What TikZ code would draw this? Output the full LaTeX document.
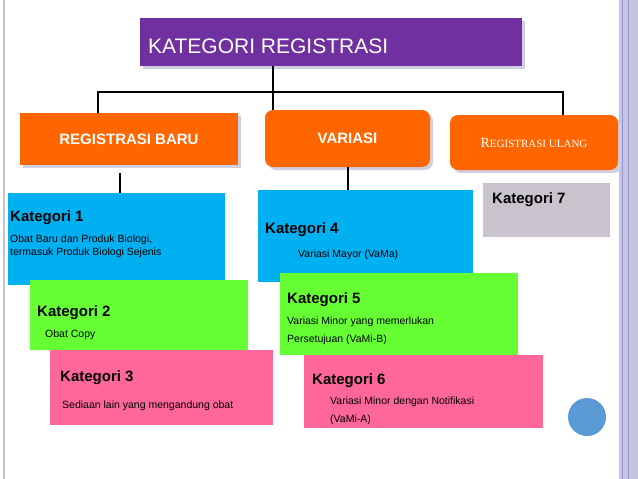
\documentclass[tikz,border=0pt]{standalone}
\usepackage{fontspec}
\setmainfont{Liberation Sans}
\newfontfamily\serifx{Liberation Serif}
\begin{document}
\begin{tikzpicture}[x=1pt,y=-1pt,
  box/.style={inner sep=0pt,outer sep=0pt,anchor=north west},
  lbl/.style={anchor=west,inner sep=0pt,text=black},
  big/.style={lbl,font=\bfseries\fontsize{15}{17}\selectfont},
  small/.style={lbl,font=\fontsize{10.5}{13}\selectfont,align=left},
  conn/.style={line width=2.2pt,black}]
\useasboundingbox (0,0) rectangle (638,479);
\fill[white] (0,0) rectangle (638,479);
% slide decoration
\draw[color=blue!20!gray!40,line width=2pt] (4,0) -- (4,479);
\fill[blue!30!gray!35] (619,0) rectangle (638,479);
\draw[blue!40!gray!60] (622,0) -- (622,479) (628,0) -- (628,479);
\fill[white] (614,0) rectangle (619,479);
% shadows
\tikzset{shad/.style={fill=blue!25!gray!30}}
\fill[shad] (143,21) rectangle (525,69);
\fill[shad] (23,116) rectangle (241,168);
\fill[shad,rounded corners=8pt] (268,113) rectangle (433,170);
\fill[shad,rounded corners=8pt] (453,118) rectangle (621,173);
% top boxes
\node[box,fill={rgb,255:red,112;green,48;blue,160},minimum width=382pt,minimum height=48pt] (title) at (140,18) {};
\node[anchor=west,text=white,font=\fontsize{21}{24}\selectfont,inner sep=0pt] (tt) at (148,46) {KATEGORI REGISTRASI};
\node[box,fill={rgb,255:red,255;green,102;blue,0},minimum width=218pt,minimum height=52pt] (rb) at (20,113) {};
\node[text=white,font=\bfseries\fontsize{15}{17}\selectfont] at (rb.center) {REGISTRASI BARU};
\node[box,fill={rgb,255:red,255;green,102;blue,0},rounded corners=8pt,minimum width=165pt,minimum height=57pt] (va) at (265,110) {};
\node[text=white,font=\bfseries\fontsize{15}{17}\selectfont] at (va.center) {VARIASI};
\node[box,fill={rgb,255:red,255;green,102;blue,0},rounded corners=8pt,minimum width=168pt,minimum height=55pt] (ru) at (450,115) {};
\node[text=white,font=\serifx\fontsize{14}{16}\selectfont] at ([xshift=0pt]ru.center) {R\fontsize{11}{13}\selectfont EGISTRASI ULANG};
% connectors
\coordinate (hj) at (273,92);
\coordinate (hl) at (98,92);
\coordinate (hr) at (563,92);
\draw[conn] (title.south -| hj) -- (hj);
\draw[conn] (hl |- rb.north) -- (hl) -- (hr) -- (hr |- ru.north);
\draw[conn] (hj) -- (hj |- va.north);
% category boxes
\definecolor{cy}{RGB}{0,176,240}
\definecolor{gr}{RGB}{102,255,51}
\definecolor{pk}{RGB}{255,102,153}
\definecolor{gy}{RGB}{200,195,205}
\node[box,fill=cy,minimum width=217pt,minimum height=92pt] (k1) at (8,193) {};
\node[box,fill=cy,minimum width=215pt,minimum height=92pt] (k4) at (258,190) {};
\coordinate (c1) at (120,173);
\coordinate (c4) at (348,167);
\draw[conn] (c1) -- (c1 |- k1.north);
\draw[conn] (c4) -- (c4 |- k4.north);
\node[box,fill=gr,minimum width=218pt,minimum height=70pt] (k2) at (30,280) {};
\node[box,fill=pk,minimum width=223pt,minimum height=75pt] (k3) at (50,350) {};
\node[box,fill=gr,minimum width=238pt,minimum height=82pt] (k5) at (280,273) {};
\node[box,fill=pk,minimum width=239pt,minimum height=73pt] (k6) at (304,355) {};
\node[box,fill=gy,minimum width=127pt,minimum height=54pt] (k7) at (483,183) {};
% labels
\node[big] at (10,218) {Kategori 1};
\node[small] at (10,240) {Obat Baru dan Produk Biologi,};
\node[small] at (10,253) {termasuk Produk Biologi Sejenis};
\node[big] at (37,313) {Kategori 2};
\node[small] at (45,335) {Obat Copy};
\node[big] at (60,378) {Kategori 3};
\node[small] at (62,406) {Sediaan lain yang mengandung obat};
\node[big] at (265,230) {Kategori 4};
\node[small] at (298,255) {Variasi Mayor (VaMa)};
\node[big] at (287,300) {Kategori 5};
\node[small] at (287,322) {Variasi Minor yang memerlukan};
\node[small] at (287,340) {Persetujuan (VaMi-B)};
\node[big] at (312,381) {Kategori 6};
\node[small] at (330,402) {Variasi Minor dengan Notifikasi};
\node[small] at (330,420) {(VaMi-A)};
\node[big] at (492,200) {Kategori 7};
% circle
\node[circle,fill={rgb,255:red,91;green,155;blue,213},minimum size=38pt,inner sep=0pt] (dot) at (587,417) {};
\end{tikzpicture}
\end{document}
